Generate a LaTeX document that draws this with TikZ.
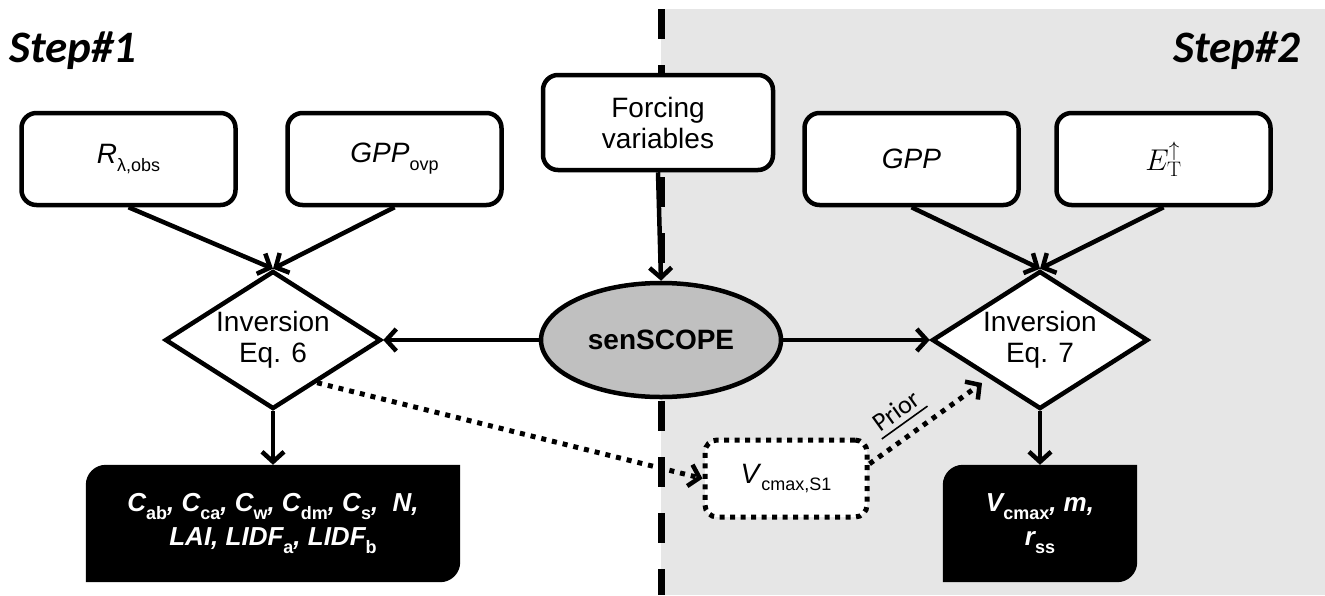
\documentclass[tikz,border=0pt]{standalone}
\usepackage{fix-cm}
\usepackage[no-math]{fontspec}
\setmainfont{Liberation Sans}
\newfontfamily\calfont{Carlito}
\usetikzlibrary{shapes.geometric,arrows.meta,calc}
\definecolor{bggray}{RGB}{230,230,230}
\definecolor{ellgray}{RGB}{192,192,192}
\newcommand{\lsub}[1]{\raisebox{-0.28em}{\fontsize{18}{18}\selectfont\upshape #1}}
\pgfdeclarelayer{bg}
\pgfsetlayers{bg,main}
\begin{document}
\begin{tikzpicture}[x=1pt,y=-1pt,
  lbl/.style={font=\fontsize{28}{31}\selectfont, align=center},
  box/.style={draw, line width=4.5pt, rounded corners=15pt, fill=white, minimum width=214pt, minimum height=92pt, inner sep=0pt, lbl},
  dia/.style={diamond, draw, line width=4.5pt, fill=white, minimum width=216pt, minimum height=138pt, inner sep=0pt, aspect=1.56, lbl},
  ell/.style={ellipse, draw, line width=4.5pt, fill=ellgray, minimum width=240pt, minimum height=114pt, inner sep=0pt, font=\fontsize{28}{31}\selectfont\bfseries},
  blk/.style={inner sep=0pt, text=white, align=center, font=\fontsize{26}{34}\selectfont\bfseries\itshape},
  vbox/.style={draw, line width=5pt, dash pattern=on 5pt off 5.5pt, rounded corners=12pt, fill=white, minimum width=162pt, minimum height=77pt, inner sep=0pt, lbl},
  steplbl/.style={anchor=base, font=\calfont\fontsize{45}{50}\selectfont\bfseries\itshape},
  arr/.style={line width=4.5pt, -{Straight Barb[length=10pt,width=22pt,line width=4.5pt]}},
  dotarr/.style={line width=5pt, dash pattern=on 5pt off 6pt, -{Straight Barb[length=10pt,width=22pt,line width=4.5pt]}}
]
\useasboundingbox (0,0) rectangle (1325,595);
\begin{pgfonlayer}{bg}
  \fill[bggray] (661,9) rectangle (1325,595);
  \draw[line width=7pt, dash pattern=on 30pt off 26pt] (661,9) -- (661,595);
\end{pgfonlayer}

% step labels
\node[steplbl] (step1) at (73,62) {Step\#1};
\node[steplbl] (step2) at (1237,62) {Step\#2};

% input boxes
\node[box] (r) at (128.5,159) {\textit{R}\lsub{λ,obs}};
\node[box] (gppovp) at (394.5,159) {\textit{GPP}\lsub{ovp}};
\node[box] (force) at (658,122.5) [minimum width=230pt, minimum height=95pt] {Forcing\\variables};
\node[box] (gpp) at (911.5,159) {\textit{GPP}};
\node[box] (et) at (1163.5,159) {\fontsize{30}{30}\selectfont$E^{\uparrow}_{\mathrm{T}}$};

% diamonds and ellipse
\node[dia] (d1) at (273,340) {Inversion\\Eq. 6};
\node[dia] (d2) at (1040,340) {Inversion\\Eq. 7};
\node[ell] (sen) at (661,340) {senSCOPE};

% outputs
\node[blk, minimum width=374pt, minimum height=117pt] (b1) at (273,523.5)
  {\textit{C}\lsub{ab}, \textit{C}\lsub{ca}, \textit{C}\lsub{w}, \textit{C}\lsub{dm}, \textit{C}\lsub{s}, \ \textit{N},\\
   \textit{LAI}, \textit{LIDF}\lsub{a}, \textit{LIDF}\lsub{b}};
\node[blk, minimum width=194pt, minimum height=117pt] (b2) at (1040,523.5)
  {\textit{V}\lsub{cmax}, \textit{m},\\ \textit{r}\lsub{ss}};
\begin{pgfonlayer}{bg}
  \foreach \b in {b1,b2}{
    \fill[black] (\b.south west) -- ([yshift=-20pt]\b.north west)
      arc[start angle=180, end angle=90, radius=20pt] -- (\b.north east)
      -- ([yshift=20pt]\b.south east)
      arc[start angle=0, end angle=-90, radius=20pt] -- cycle;
  }
\end{pgfonlayer}

\node[vbox] (v) at (786,478.5) {\textit{V}\lsub{cmax,S1}};

% connectors
\draw[arr] (r.south) -- (d1.north);
\draw[arr] (gppovp.south) -- (d1.north);
\draw[arr] (gpp.south) -- (d2.north);
\draw[arr] (et.south) -- (d2.north);
\draw[arr] (force.south) -- (sen.north);
\draw[arr] (sen.west) -- (d1.east);
\draw[arr] (sen.east) -- (d2.west);
\draw[arr] (d1.south) -- (b1.north);
\draw[arr] (d2.south) -- (b2.north);

\coordinate (dotstart) at ($(d1.east)!0.6!(d1.south)$);
\coordinate (dotend) at (982,383);
\draw[dotarr] (dotstart) -- (v.west);
\draw[dotarr] (v.10) -- node[pos=0.38, sloped, above=13pt, inner xsep=0pt, inner ysep=3pt, font=\calfont\fontsize{26}{26}\selectfont] (prior) {Prior} (dotend);
\draw[line width=1.6pt] (prior.south west) -- (prior.south east);
\end{tikzpicture}
\end{document}
